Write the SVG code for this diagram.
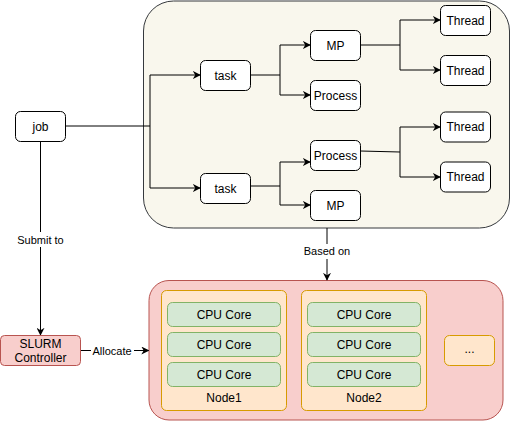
<svg xmlns="http://www.w3.org/2000/svg" width="511" height="422" viewBox="0 0 511 422">
<defs>
<marker id="arr" viewBox="0 0 10 10" refX="9" refY="5" markerWidth="8" markerHeight="8" markerUnits="userSpaceOnUse" orient="auto">
<path d="M0,0 L10,5 L0,10 L3,5 Z" fill="#000"/>
</marker>
<style>
text{font-family:"Liberation Sans",Arial,sans-serif;font-size:12px;fill:#000;text-anchor:middle;dominant-baseline:central}
.lbl{font-size:11px}
.box{fill:#fff;stroke:#000;stroke-width:1}
.red{fill:#f8cecc;stroke:#b85450;stroke-width:1}
.org{fill:#ffe6cc;stroke:#d79b00;stroke-width:1}
.grn{fill:#d5e8d4;stroke:#82b366;stroke-width:1}
.ln{fill:none;stroke:#000;stroke-width:1}
.arr{marker-end:url(#arr)}
</style>
</defs>
<rect width="511" height="422" fill="#fff"/>
<g id="job-container">
<rect x="143.5" y="1" width="366" height="227" rx="30" fill="#f9f7ed" stroke="#36393d"/>
</g>
<g id="cluster">
<rect x="149" y="280.5" width="354" height="139.5" rx="20" class="red"/>
</g>
<g id="connectors">
<path class="ln" d="M65.5,126 H150 M150,75 V188"/>
<path class="ln arr" d="M150,75 H200"/>
<path class="ln arr" d="M150,188 H200"/>
<path class="ln" d="M250.5,75 H280 M280,45 V95"/>
<path class="ln arr" d="M280,45 H310"/>
<path class="ln arr" d="M280,95 H310"/>
<path class="ln" d="M250.5,186 H280 M280,162 V205"/>
<path class="ln arr" d="M280,162 H310"/>
<path class="ln arr" d="M280,205 H310"/>
<path class="ln" d="M360.5,45 H400 M400,20 V70"/>
<path class="ln arr" d="M400,20 H440"/>
<path class="ln arr" d="M400,70 H440"/>
<path class="ln" d="M360.5,151 L400,152 M400,127 V177"/>
<path class="ln arr" d="M400,127 H440"/>
<path class="ln arr" d="M400,177 H440"/>
<path class="ln arr" d="M40.5,141 V335"/>
<rect x="14" y="232" width="53" height="15" fill="#fff"/>
<text class="lbl" x="40.5" y="240">Submit to</text>
<path class="ln arr" d="M81,350.5 H148.5"/>
<rect x="91" y="343" width="43" height="15" fill="#fff"/>
<text class="lbl" x="112" y="350.5">Allocate</text>
<path class="ln arr" d="M327,228 V280"/>
<rect x="302" y="244" width="50" height="15" fill="#fff"/>
<text class="lbl" x="327" y="251">Based on</text>
</g>
<g id="job"><rect x="15.5" y="111.5" width="50" height="30" rx="5" class="box"/><text x="40.5" y="126.5">job</text></g>
<g id="task1"><rect x="200.5" y="60.5" width="50" height="30" rx="5" class="box"/><text x="225.5" y="75.5">task</text></g>
<g id="task2"><rect x="200.5" y="173.5" width="50" height="30" rx="5" class="box"/><text x="225.5" y="188.5">task</text></g>
<g id="mp1"><rect x="310.5" y="30.5" width="50" height="30" rx="5" class="box"/><text x="335.5" y="45.5">MP</text></g>
<g id="process1"><rect x="310.5" y="80.5" width="50" height="30" rx="5" class="box"/><text x="335.5" y="95.5">Process</text></g>
<g id="process2"><rect x="310.5" y="140.5" width="50" height="30" rx="5" class="box"/><text x="335.5" y="155.5">Process</text></g>
<g id="mp2"><rect x="310.5" y="190.5" width="50" height="30" rx="5" class="box"/><text x="335.5" y="205.5">MP</text></g>
<g id="thread1"><rect x="440.5" y="5.5" width="50" height="30" rx="5" class="box"/><text x="465.5" y="20.5">Thread</text></g>
<g id="thread2"><rect x="440.5" y="55.5" width="50" height="30" rx="5" class="box"/><text x="465.5" y="70.5">Thread</text></g>
<g id="thread3"><rect x="440.5" y="112" width="50" height="30" rx="5" class="box"/><text x="465.5" y="127">Thread</text></g>
<g id="thread4"><rect x="440.5" y="162" width="50" height="30" rx="5" class="box"/><text x="465.5" y="177">Thread</text></g>
<g id="slurm"><rect x="0.5" y="335.5" width="80" height="30" rx="4" class="red"/><text x="40.5" y="344">SLURM</text><text x="40.5" y="358">Controller</text></g>
<g id="node1">
<rect x="161.5" y="290.5" width="125" height="120" rx="5" class="org"/>
<rect x="167.5" y="302.5" width="113" height="24" rx="5" class="grn"/><text x="224" y="314.5">CPU Core</text>
<rect x="167.5" y="332.5" width="113" height="24" rx="5" class="grn"/><text x="224" y="344.5">CPU Core</text>
<rect x="167.5" y="362.5" width="113" height="24" rx="5" class="grn"/><text x="224" y="374.5">CPU Core</text>
<text x="224" y="398">Node1</text>
</g>
<g id="node2">
<rect x="301.5" y="290.5" width="125" height="120" rx="5" class="org"/>
<rect x="307.5" y="302.5" width="113" height="24" rx="5" class="grn"/><text x="364" y="314.5">CPU Core</text>
<rect x="307.5" y="332.5" width="113" height="24" rx="5" class="grn"/><text x="364" y="344.5">CPU Core</text>
<rect x="307.5" y="362.5" width="113" height="24" rx="5" class="grn"/><text x="364" y="374.5">CPU Core</text>
<text x="364" y="398">Node2</text>
</g>
<g id="more"><rect x="444.5" y="335.5" width="50" height="30" rx="5" class="org"/><text x="469.5" y="349">...</text></g>
</svg>
